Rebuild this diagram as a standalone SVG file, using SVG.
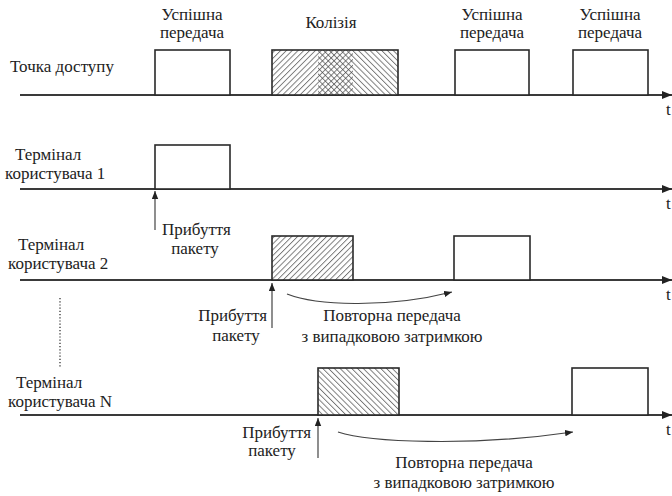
<svg xmlns="http://www.w3.org/2000/svg" width="672" height="496" viewBox="0 0 672 496">
  <style>
    text { font-family: "Liberation Serif", "Times New Roman", serif; font-size: 17px; fill: #222; }
    .mid { text-anchor: middle; }
    .end { text-anchor: end; }
    .axis { stroke: #3a3a3a; stroke-width: 2; fill: none; }
    .slot { stroke: #2a2a2a; stroke-width: 1.6; fill: #fff; }
    .frame { stroke: #2a2a2a; stroke-width: 1.6; }
    .arrow { stroke: #444; stroke-width: 1.2; fill: none; }
  </style>
  <defs>
    <pattern id="hatchFwd" patternUnits="userSpaceOnUse" width="4.1" height="10" patternTransform="rotate(45)">
      <rect width="4.1" height="10" fill="#fff"/>
      <line x1="0.5" y1="0" x2="0.5" y2="10" stroke="#444" stroke-width="0.75"/>
    </pattern>
    <pattern id="hatchBack" patternUnits="userSpaceOnUse" width="4.1" height="10" patternTransform="rotate(-45)">
      <rect width="4.1" height="10" fill="#fff"/>
      <line x1="0.5" y1="0" x2="0.5" y2="10" stroke="#444" stroke-width="0.75"/>
    </pattern>
    <pattern id="hatchBackOver" patternUnits="userSpaceOnUse" width="4.1" height="10" patternTransform="rotate(-45)">
      <line x1="0.5" y1="0" x2="0.5" y2="10" stroke="#444" stroke-width="0.75"/>
    </pattern>
    <marker id="axisHead" viewBox="0 0 10 8" refX="10" refY="4" markerWidth="10" markerHeight="8" markerUnits="userSpaceOnUse" orient="auto">
      <path d="M0,0 L10,4 L0,8 Z" fill="#222"/>
    </marker>
    <marker id="smallHead" viewBox="0 0 10 8" refX="10" refY="4" markerWidth="8" markerHeight="7" markerUnits="userSpaceOnUse" orient="auto">
      <path d="M0,0 L10,4 L0,8 Z" fill="#222"/>
    </marker>
  </defs>

  <!-- time axes, arrivals and back-off arrows -->
  <g id="connectors">
    <line class="axis" x1="20" y1="95" x2="672" y2="95" marker-end="url(#axisHead)"/>
    <line class="axis" x1="20" y1="189" x2="672" y2="189" marker-end="url(#axisHead)"/>
    <line class="axis" x1="20" y1="280" x2="672" y2="280" marker-end="url(#axisHead)"/>
    <line class="axis" x1="20" y1="415" x2="672" y2="415" marker-end="url(#axisHead)"/>

    <line class="arrow" x1="155" y1="230" x2="155" y2="191" marker-end="url(#smallHead)"/>
    <line class="arrow" x1="272" y1="328" x2="272" y2="283" marker-end="url(#smallHead)"/>
    <line class="arrow" x1="318" y1="458" x2="318" y2="418" marker-end="url(#smallHead)"/>

    <path class="arrow" d="M287,294 C315,305 385,309 452,292" marker-end="url(#smallHead)"/>
    <path class="arrow" d="M338,432 C368,442 470,447 573,432" marker-end="url(#smallHead)"/>

    <line x1="60" y1="298" x2="60" y2="368" stroke="#333" stroke-width="1.3" stroke-dasharray="1.2 2"/>
  </g>

  <!-- access point -->
  <g id="access-point">
    <text x="10" y="72">Точка доступу</text>
    <text x="666" y="115">t</text>
    <rect class="slot" x="155" y="50" width="75" height="45"/>
    <text class="mid" x="192" y="20">Успішна</text>
    <text class="mid" x="192" y="38">передача</text>
    <rect x="272" y="50" width="81" height="45" fill="url(#hatchFwd)"/>
    <rect x="318" y="50" width="80" height="45" fill="url(#hatchBack)"/>
    <rect x="318" y="50" width="35" height="45" fill="url(#hatchFwd)"/>
    <rect x="318" y="50" width="35" height="45" fill="url(#hatchBackOver)"/>
    <rect class="frame" x="272" y="50" width="126" height="45" fill="none"/>
    <text class="mid" x="331" y="28">Колізія</text>
    <rect class="slot" x="455" y="50" width="74" height="45"/>
    <text class="mid" x="492" y="20">Успішна</text>
    <text class="mid" x="492" y="38">передача</text>
    <rect class="slot" x="573" y="50" width="75" height="45"/>
    <text class="mid" x="610" y="20">Успішна</text>
    <text class="mid" x="610" y="38">передача</text>
  </g>

  <!-- terminal 1 -->
  <g id="terminal-1">
    <text x="15" y="160">Термінал</text>
    <text x="5" y="179">користувача 1</text>
    <text x="666" y="209">t</text>
    <rect class="slot" x="155" y="145" width="75" height="44"/>
    <text x="162" y="235">Прибуття</text>
    <text class="mid" x="195" y="254">пакету</text>
  </g>

  <!-- terminal 2 -->
  <g id="terminal-2">
    <text x="18" y="250">Термінал</text>
    <text x="8" y="269">користувача 2</text>
    <text x="666" y="300">t</text>
    <rect class="frame" x="272" y="236" width="81" height="44" fill="url(#hatchFwd)"/>
    <rect class="slot" x="454" y="236" width="76" height="44"/>
    <text class="end" x="267" y="321">Прибуття</text>
    <text class="mid" x="236" y="341">пакету</text>
    <text class="mid" x="392" y="321">Повторна передача</text>
    <text class="mid" x="392" y="342">з випадковою затримкою</text>
  </g>

  <!-- terminal N -->
  <g id="terminal-n">
    <text x="16" y="388">Термінал</text>
    <text x="8" y="407">користувача N</text>
    <text x="666" y="435">t</text>
    <rect class="frame" x="318" y="368" width="81" height="47" fill="url(#hatchBack)"/>
    <rect class="slot" x="572" y="368" width="76" height="47"/>
    <text class="end" x="311" y="438">Прибуття</text>
    <text class="mid" x="272" y="456">пакету</text>
    <text class="mid" x="464" y="468">Повторна передача</text>
    <text class="mid" x="464" y="488">з випадковою затримкою</text>
  </g>
</svg>
